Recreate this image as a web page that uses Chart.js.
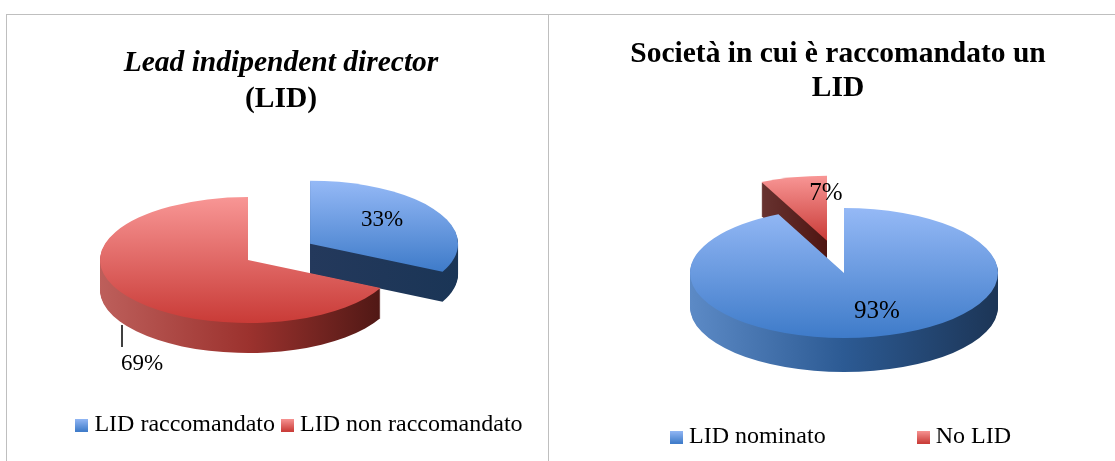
<!DOCTYPE html>
<html>
<head>
<meta charset="utf-8">
<script src="https://cdn.jsdelivr.net/npm/chart.js@4"></script>
<style>
  html, body { margin: 0; padding: 0; background: #fff; overflow: hidden; }
  body { width: 1115px; height: 461px; position: relative; }
  canvas { position: absolute; top: 0; }
  #c1 { left: 0; }
  #c2 { left: 561px; }
  .rule { position: absolute; background: #bfbfbf; }
</style>
</head>
<body>
<div class="rule" style="left:6px;top:14px;width:1109px;height:1px"></div>
<div class="rule" style="left:6px;top:14px;width:1px;height:447px"></div>
<div class="rule" style="left:548px;top:14px;width:1px;height:447px"></div>
<canvas id="c1" width="562" height="461"></canvas>
<canvas id="c2" width="554" height="461"></canvas>
<script>
// ===== DATA =====
const leftLabels = ['LID raccomandato', 'LID non raccomandato'];
const leftValues = [33, 69];
const leftTexts = ['33%', '69%'];

const rightLabels = ['LID nominato', 'No LID'];
const rightValues = [93, 7];
const rightTexts = ['93%', '7%'];

// ===== STYLE =====
const SERIF = "'Liberation Serif', serif";
const BLUE = { top: ['#95b9f6', '#3e7bc9'], wall: ['#5c8ac6', '#2c5a93', '#1c3556'] };
const RED = { top: ['#f89695', '#c93b37'], wall: ['#bd5f5b', '#9c322e', '#471512'] };
const RED_BACK = { top: ['#f89695', '#c93b37'], wall: ['#8a5a58', '#4e1512', '#471512'] };
const BLUE_BACK = { top: ['#95b9f6', '#3e7bc9'], wall: ['#2c4a70', '#24395c', '#1a3556'] };

// ===== 3D PIE PLUGIN =====
function sector(ctx, rx, start, end) {
  ctx.beginPath();
  ctx.moveTo(0, 0);
  ctx.arc(0, 0, rx, start, end);
  ctx.closePath();
}

const pie3d = {
  id: 'pie3d',
  afterLayout(chart, args, o) {
    chart.legend.left += o.legendShift;
    chart.legend.right += o.legendShift;
  },
  beforeDatasetsDraw(chart, args, o) {
    const ctx = chart.ctx;
    const left = chart.canvas.offsetLeft;
    const squash = o.ry / o.rx;
    const arcs = chart.getDatasetMeta(0).data.map((arc, i) => ({ arc, i }));
    // the pulled out slice sits behind, so it goes first
    arcs.sort((a, b) => o.explode[b.i] - o.explode[a.i]);

    arcs.forEach(({ arc, i }) => {
      const { startAngle, endAngle } = arc.getProps(['startAngle', 'endAngle'], true);
      const mid = (startAngle + endAngle) / 2;
      const x = o.cx - left + Math.cos(mid) * o.explode[i];
      const y = o.cy + Math.sin(mid) * o.explode[i] * squash;
      const look = o.looks[i];

      const wall = ctx.createLinearGradient(-o.rx, 0, o.rx, 0);
      look.wall.forEach((c, k) => wall.addColorStop(k / (look.wall.length - 1), c));
      for (let d = o.depth; d >= 1; d--) {
        ctx.save();
        ctx.translate(x, y + d);
        ctx.scale(1, squash);
        sector(ctx, o.rx, startAngle, endAngle);
        ctx.fillStyle = wall;
        ctx.fill();
        ctx.restore();
      }

      let low = Math.max(0, Math.sin(startAngle), Math.sin(endAngle));
      if (startAngle <= Math.PI / 2 && endAngle >= Math.PI / 2) low = 1;
      const face = ctx.createLinearGradient(0, -o.rx, 0, low * o.rx);
      face.addColorStop(0, look.top[0]);
      face.addColorStop(1, look.top[1]);
      ctx.save();
      ctx.translate(x, y);
      ctx.scale(1, squash);
      sector(ctx, o.rx, startAngle, endAngle);
      ctx.fillStyle = face;
      ctx.fill();
      ctx.restore();
    });
    return false;
  },
  afterDraw(chart, args, o) {
    const ctx = chart.ctx;
    const left = chart.canvas.offsetLeft;
    ctx.save();
    ctx.fillStyle = '#000';
    ctx.font = o.textSize + 'px ' + SERIF;
    ctx.textAlign = 'center';
    ctx.textBaseline = 'middle';
    o.texts.forEach((t, i) => ctx.fillText(t, o.textAt[i][0] - left, o.textAt[i][1]));
    if (o.leader) {
      ctx.strokeStyle = '#000';
      ctx.lineWidth = 1.5;
      ctx.beginPath();
      ctx.moveTo(o.leader[0] - left, o.leader[1]);
      ctx.lineTo(o.leader[0] - left, o.leader[2]);
      ctx.stroke();
    }
    ctx.restore();
  }
};

// ===== LEGEND BOX =====
function legendBox(colors) {
  const box = document.createElement('canvas');
  box.width = 13;
  box.height = 13;
  const g = box.getContext('2d');
  const grad = g.createLinearGradient(0, 0, 0, 13);
  grad.addColorStop(0, colors[0]);
  grad.addColorStop(1, colors[1]);
  g.fillStyle = grad;
  g.fillRect(0, 0, 13, 13);
  return box;
}

// ===== CHARTS =====
function makePie(id, labels, values, cfg) {
  return new Chart(document.getElementById(id), {
    type: 'pie',
    data: { labels, datasets: [{ data: values, borderWidth: 0 }] },
    plugins: [pie3d],
    options: {
      responsive: false,
      animation: false,
      layout: { padding: { bottom: cfg.legendBottom } },
      plugins: {
        tooltip: { enabled: false },
        title: {
          display: true,
          text: cfg.title,
          color: '#000',
          font: { family: SERIF, size: 29.5, weight: 'bold', style: cfg.titleStyle, lineHeight: 1.17 },
          padding: { top: cfg.titleTop, bottom: 0 }
        },
        subtitle: {
          display: !!cfg.subtitle,
          text: cfg.subtitle || '',
          color: '#000',
          font: { family: SERIF, size: 29.5, weight: 'bold', lineHeight: 1.17 },
          padding: { top: 2, bottom: 0 }
        },
        legend: {
          position: 'bottom',
          labels: {
            color: '#000',
            font: { family: SERIF, size: 24 },
            padding: cfg.legendGap,
            usePointStyle: true,
            pointStyleWidth: 1,
            generateLabels: () => labels.map((text, i) => ({
              text,
              pointStyle: legendBox(cfg.looks[i].top),
              fillStyle: cfg.looks[i].top[0],
              lineWidth: 0,
              index: i
            }))
          }
        },
        pie3d: {
          cx: cfg.cx, cy: cfg.cy, rx: cfg.rx, ry: cfg.ry, depth: cfg.depth,
          explode: cfg.explode, looks: cfg.looks,
          texts: cfg.texts, textAt: cfg.textAt, textSize: cfg.textSize, leader: cfg.leader,
          legendShift: cfg.legendShift
        }
      }
    }
  });
}

makePie('c1', leftLabels, leftValues, {
  title: 'Lead indipendent director',
  titleStyle: 'italic',
  subtitle: '(LID)',
  titleTop: 46,
  cx: 248, cy: 260, rx: 148, ry: 63, depth: 30,
  explode: [73, 0],
  looks: [BLUE_BACK, RED],
  texts: leftTexts,
  textAt: [[382, 220], [142, 364]],
  textSize: 23,
  leader: [122, 325, 347],
  legendGap: 12,
  legendBottom: 14,
  legendShift: 21
});

makePie('c2', rightLabels, rightValues, {
  title: ['Società in cui è raccomandato un', 'LID'],
  titleStyle: 'normal',
  titleTop: 37,
  cx: 844, cy: 273, rx: 154, ry: 65, depth: 34,
  explode: [0, 78],
  looks: [BLUE, RED_BACK],
  texts: rightTexts,
  textAt: [[877, 311], [826, 193]],
  textSize: 25,
  legendGap: 97,
  legendBottom: 2,
  legendShift: 5.5
});
</script>
</body>
</html>
